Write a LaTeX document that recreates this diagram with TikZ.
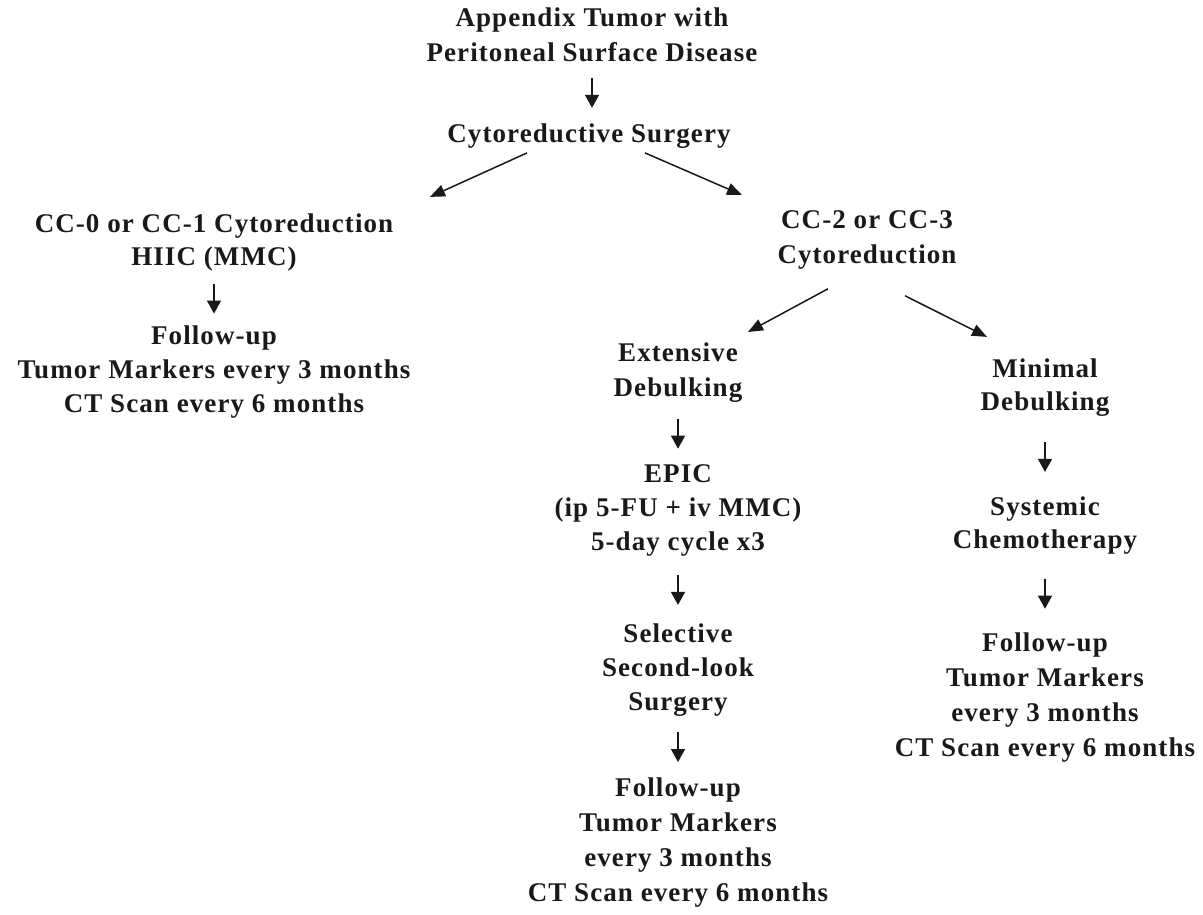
\documentclass[tikz,border=0pt]{standalone}
\usepackage{fontspec}
\setmainfont{Liberation Serif}[LetterSpace=4]
\usetikzlibrary{arrows.meta,calc}
\tikzset{
  lbl/.style={anchor=north, align=center, inner sep=0pt, text=black!90,
    font=\fontsize{27}{35}\selectfont\bfseries,
    execute at begin node=\strut, execute at end node=\strut},
  spA/.style={font=\fontsize{27}{33}\selectfont\bfseries},
  spB/.style={font=\fontsize{27}{34}\selectfont\bfseries},
  arr/.style={line width=1.5pt, draw=black!90, -{Triangle[length=15pt,width=12pt]}},
  varr/.style={line width=1.3pt, draw=black!90, -{Triangle[length=13pt,width=14pt]}},
}
\newcommand\vlink[2]{\draw[varr] ($(#1.south)!.5!(#1.south |- #2.north)+(0,-17)$) -- ($(#1.south)!.5!(#1.south |- #2.north)+(0,13)$);}
\begin{document}
\begin{tikzpicture}[x=1pt,y=-1pt]
\fill[white] (0,0) rectangle (1203,914);
\useasboundingbox (0,0) rectangle (1203,914);
\node[lbl] (top) at (592,7.5) {Appendix Tumor with\\Peritoneal Surface Disease};
\node[lbl] (cs) at (589,117.5) {Cytoreductive Surgery};
\node[lbl,spA] (cc01) at (214,213.9) {CC-0 or CC-1 Cytoreduction\\HIIC (MMC)};
\node[lbl,spB] (fu1) at (214,325.2) {Follow-up\\Tumor Markers every 3 months\\CT Scan every 6 months};
\node[lbl] (cc23) at (867,210.5) {CC-2 or CC-3\\Cytoreduction};
\node[lbl] (ext) at (678,342.5) {Extensive\\Debulking};
\node[lbl,spB] (epic) at (678,464.2) {EPIC\\(ip 5-FU + iv MMC)\\5-day cycle x3};
\node[lbl,spB] (sel) at (678,623.2) {Selective\\Second-look\\Surgery};
\node[lbl] (fu2) at (678,777.5) {Follow-up\\Tumor Markers\\every 3 months\\CT Scan every 6 months};
\node[lbl,spA] (min) at (1045,358.9) {Minimal\\Debulking};
\node[lbl,spA] (sys) at (1045,496.9) {Systemic\\Chemotherapy};
\node[lbl] (fu3) at (1045,632.5) {Follow-up\\Tumor Markers\\every 3 months\\CT Scan every 6 months};
\vlink{top}{cs}
\vlink{cc01}{fu1}
\vlink{ext}{epic}
\vlink{epic}{sel}
\vlink{sel}{fu2}
\vlink{min}{sys}
\vlink{sys}{fu3}
\draw[arr] ($(cs.south)+(-62,0)$) -- ($(cc01.north)+(216,-17)$);
\draw[arr] ($(cs.south)+(56,0)$) -- ($(cc23.north)+(-125,-15.5)$);
\draw[arr] ($(cc23.south)+(-39,14.5)$) -- ($(ext.north)+(70,-10.5)$);
\draw[arr] ($(cc23.south)+(38,21.5)$) -- ($(min.north)+(-58,-22)$);
\end{tikzpicture}
\end{document}
